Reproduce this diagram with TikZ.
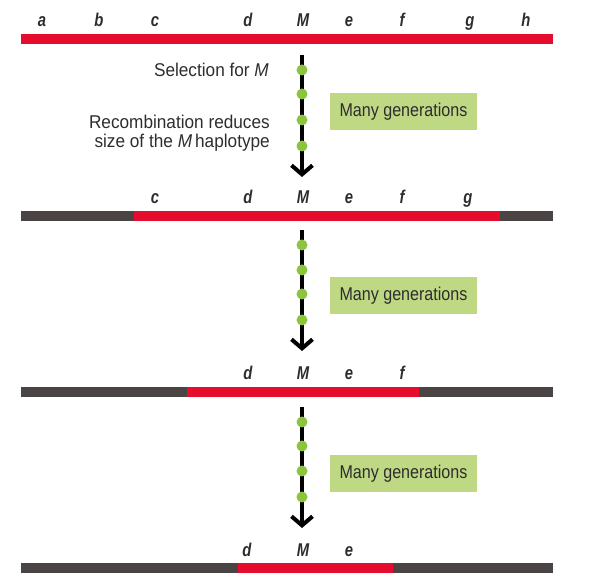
\documentclass[tikz,border=0pt]{standalone}
\usepackage{fontspec}
\setmainfont{Liberation Sans}
\newfontfamily\labfont[FakeStretch=0.8]{Liberation Sans}
\newfontfamily\sidefont[FakeStretch=0.93]{Liberation Sans}
\newfontfamily\boxfont[FakeStretch=0.87]{Liberation Sans}
\usetikzlibrary{arrows.meta}
\definecolor{chred}{RGB}{230,12,46}
\definecolor{chgray}{RGB}{74,68,68}
\definecolor{boxgreen}{RGB}{191,216,132}
\definecolor{dotgreen}{RGB}{141,196,62}
\definecolor{txtgray}{RGB}{45,45,45}
\tikzset{
  redseg/.style={fill=chred, draw=none},
  grayseg/.style={fill=chgray, draw=none},
  loclab/.style={anchor=base, inner sep=0pt, text=txtgray, font=\labfont\bfseries\itshape\fontsize{18.5}{18.5}\selectfont},
  genbox/.style={fill=boxgreen, draw=none, minimum width=147pt, minimum height=37pt, inner sep=0pt, text=txtgray, font=\boxfont\fontsize{18.5}{18.5}\selectfont},
  gdot/.style={circle, fill=dotgreen, draw=none, minimum size=11pt, inner sep=0pt},
  genarrow/.style={line width=4pt, -{Straight Barb[length=9pt, width=21pt, line width=4pt]}},
  sidetext/.style={anchor=base east, inner sep=0pt, text=txtgray, font=\sidefont\fontsize{18.5}{19}\selectfont, align=right}
}
\begin{document}
\begin{tikzpicture}[x=1pt, y=-1pt]
\useasboundingbox (0,0) rectangle (598,588);
% Bar 1
\fill[redseg] (21,34) rectangle (553,44);
\foreach \n/\x in {a/42, b/99, c/155, d/248, M/303, e/349, f/402, g/470, h/526}
  \node[loclab] (r1\n) at (\x,27) {\n};
% Bar 2
\fill[grayseg] (21,210.7) rectangle (134,220.7);
\fill[redseg] (134,210.7) rectangle (500,220.7);
\fill[grayseg] (500,210.7) rectangle (553,220.7);
\foreach \n/\x in {c/155, d/248, M/303, e/349, f/402, g/468}
  \node[loclab] (r2\n) at (\x,204) {\n};
% Bar 3
\fill[grayseg] (21,386.7) rectangle (187,396.7);
\fill[redseg] (187,386.7) rectangle (419,396.7);
\fill[grayseg] (419,386.7) rectangle (553,396.7);
\foreach \n/\x in {d/248, M/303, e/349, f/402}
  \node[loclab] (r3\n) at (\x,380) {\n};
% Bar 4
\fill[grayseg] (21,563) rectangle (238,573);
\fill[redseg] (238,563) rectangle (393,573);
\fill[grayseg] (393,563) rectangle (553,573);
\foreach \n/\x in {d/247, M/303, e/349}
  \node[loclab] (r4\n) at (\x,556) {\n};
% Arrows
\coordinate (a1s) at (302,55);  \coordinate (a1e) at (302,177);
\coordinate (a2s) at (302,230); \coordinate (a2e) at (302,351);
\coordinate (a3s) at (302,407); \coordinate (a3e) at (302,528);
\draw[genarrow] (a1s) -- (a1e);
\draw[genarrow] (a2s) -- (a2e);
\draw[genarrow] (a3s) -- (a3e);
\foreach \i/\y in {1/70, 2/94, 3/120, 4/146} \node[gdot] (d1\i) at (302,\y) {};
\foreach \i/\y in {1/245, 2/270, 3/294, 4/320} \node[gdot] (d2\i) at (302,\y) {};
\foreach \i/\y in {1/422, 2/446, 3/471, 4/497} \node[gdot] (d3\i) at (302,\y) {};
% Boxes
\node[genbox] (g1) at (403.5,111.5) {Many generations};
\node[genbox] (g2) at (403.5,296) {Many generations};
\node[genbox] (g3) at (403.5,474) {Many generations};
% Side texts
\node[sidetext] (sel) at (269,77) {Selection for \textit{M}};
\node[sidetext] (rec1) at (270,129) {Recombination reduces};
\node[sidetext] (rec2) at (270,148) {size of the \textit{M}\,haplotype};
\end{tikzpicture}
\end{document}
